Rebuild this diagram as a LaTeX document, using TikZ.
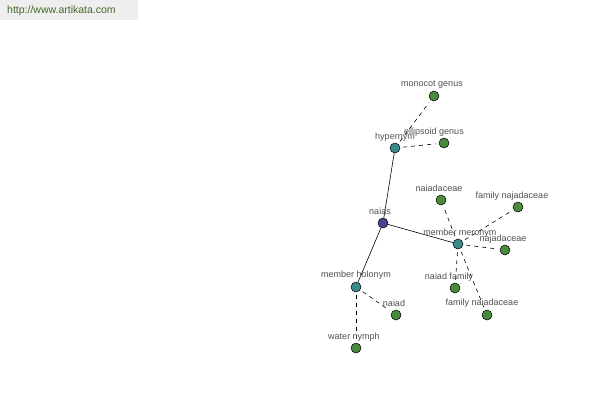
\documentclass[tikz,border=0pt]{standalone}
\usepackage{fontspec}
\setmainfont{Liberation Sans}
\begin{document}
\begin{tikzpicture}[x=1pt,y=-1pt,
  vtx/.style={circle,draw=black,line width=0.5pt,minimum size=10pt,inner sep=0pt},
  rootv/.style={vtx,fill=rootc},
  midv/.style={vtx,fill=midc},
  leafv/.style={vtx,fill=leafc},
  lbl/.style={font=\fontsize{9}{10}\selectfont,text=labc,inner sep=0pt},
  solidedge/.style={draw=black,line width=0.6pt},
  dashedge/.style={draw=black,line width=0.6pt,dash pattern=on 4pt off 4pt,shorten >=3pt,shorten <=3pt}]
\definecolor{rootc}{HTML}{45458F}
\definecolor{midc}{HTML}{3A8A8A}
\definecolor{leafc}{HTML}{4A8A3C}
\definecolor{labc}{HTML}{505050}
\definecolor{hdrbg}{HTML}{EEEEEE}
\definecolor{hdrtx}{HTML}{3F6B25}
\useasboundingbox (0,0) rectangle (600,400);
\fill[white] (0,0) rectangle (600,400);
\fill[hdrbg] (0,0) rectangle (138,20);
\node[font=\fontsize{10.5}{11}\selectfont,text=hdrtx,anchor=west,inner sep=0pt] (hdr) at (7,11) {http://www.artikata.com};
% nodes
\node[rootv] (naias) at (383,223) {};
\node[midv] (hyp) at (395,148) {};
\node[midv] (mer) at (458,244) {};
\node[midv] (hol) at (356,287) {};
\node[leafv] (mono) at (434,96) {};
\node[leafv] (ell) at (444,143) {};
\node[leafv] (naiadaceae) at (441,200) {};
\node[leafv] (famnaj) at (518,207) {};
\node[leafv] (najad) at (505,250) {};
\node[leafv] (naiadfam) at (455,288) {};
\node[leafv] (famnaiad) at (487,315) {};
\node[leafv] (naiad) at (396,315) {};
\node[leafv] (water) at (356,348) {};
% edges
\draw[solidedge] (naias) -- (hyp);
\draw[solidedge] (naias) -- (mer);
\draw[solidedge] (naias) -- (hol);
\draw[dashedge] (hyp) -- (mono);
\draw[dashedge] (hyp) -- (ell);
\draw[dashedge] (mer) -- (naiadaceae);
\draw[dashedge] (mer) -- (famnaj);
\draw[dashedge] (mer) -- (najad);
\draw[dashedge] (mer) -- (naiadfam);
\draw[dashedge] (mer) -- (famnaiad);
\draw[dashedge] (hol) -- (naiad);
\draw[dashedge] (hol) -- (water);
% labels
\node[lbl] (l-naias) at (380,211) {naias};
\node[lbl] (l-hyp) at (395,137) {hypernym};
\node[lbl] (l-mono) at (432,85) {monocot genus};
\node[lbl] (l-ell) at (434,132) {ellipsoid genus};
\node[lbl] (l-mer) at (460,233) {member meronym};
\node[lbl] (l-naiadaceae) at (439,188) {naiadaceae};
\node[lbl] (l-famnaj) at (512,196) {family najadaceae};
\node[lbl] (l-najad) at (503,239) {najadaceae};
\node[lbl] (l-naiadfam) at (449,277) {naiad family};
\node[lbl] (l-famnaiad) at (482,303) {family naiadaceae};
\node[lbl] (l-hol) at (356,275) {member holonym};
\node[lbl] (l-naiad) at (394,303) {naiad};
\node[lbl] (l-water) at (354,337) {water nymph};
\end{tikzpicture}
\end{document}
